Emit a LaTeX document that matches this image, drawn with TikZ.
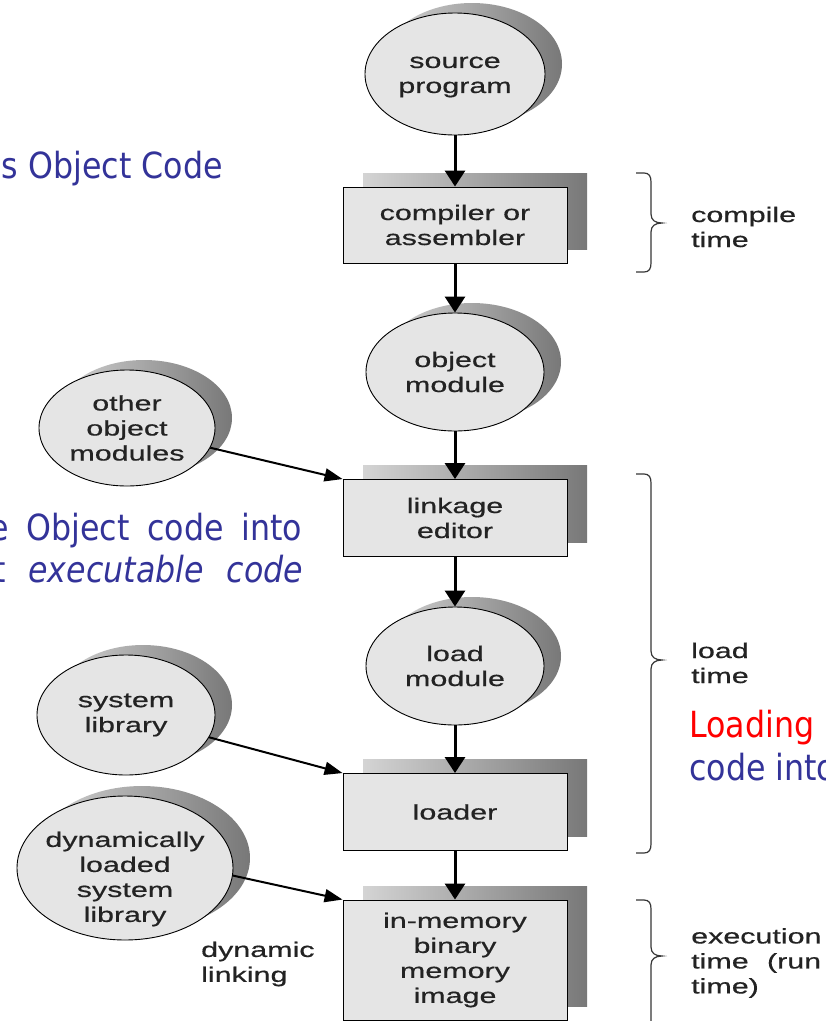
\documentclass[tikz,border=0pt]{standalone}
\usepackage{fontspec}
\setmainfont{Liberation Sans}
\newfontfamily\figfont[FakeStretch=1.45,FakeBold=0.5]{Liberation Sans}
\newfontfamily\slidefont[FakeStretch=0.88]{DejaVu Sans}
\usetikzlibrary{arrows.meta,shapes.geometric}

\definecolor{nodefill}{RGB}{229,229,229}
\definecolor{shadelight}{RGB}{212,212,212}
\definecolor{shadedark}{RGB}{120,120,120}
\definecolor{figink}{RGB}{35,35,35}
\definecolor{slideblue}{RGB}{51,51,153}
\definecolor{slidered}{RGB}{255,0,0}
\definecolor{bracegray}{RGB}{55,55,55}

\newcommand\figtext{\figfont\fontsize{21}{25}\selectfont}

\tikzset{
  modell/.style={ellipse, draw=black, line width=0.9pt, fill=nodefill, inner sep=0pt},
  modbox/.style={rectangle, draw=black, line width=0.9pt, fill=nodefill, inner sep=0pt,
    font=\figtext, text=figink, align=center},
  modtext/.style={font=\figtext, text=figink, align=center, inner sep=0pt},
  shadowfill/.style={left color=shadelight, right color=shadedark},
  flow/.style={line width=3pt, -{Triangle[width=20pt,length=16pt]}},
  feed/.style={line width=2pt, -{Triangle[width=13pt,length=18pt]}},
  bracepath/.style={line width=1.2pt, draw=bracegray},
  timelabel/.style={font=\figtext, text=figink, align=left, anchor=west, inner sep=0pt},
  slidetext/.style={font=\slidefont\fontsize{36}{43}\selectfont, inner sep=0pt},
}

% ellipse module with its shaded drop shadow: name, x, y, x radius, y radius, text, text offset
\newcommand\roundmod[7]{%
  \shade[shadowfill] (#2+17,#3-10) ellipse[x radius=#4, y radius=#5];
  \node[modell, minimum width={2*#4pt}, minimum height={2*#5pt}] (#1) at (#2,#3) {};
  \node[modtext] (#1-text) at (#2,#3+#7) {#6};
}

% rectangular stage with its shaded drop shadow: name, x, y, width, height, text
\newcommand\rectmod[6]{%
  \shade[shadowfill] (#2-#4/2+20,#3-#5/2-14) rectangle (#2+#4/2+20,#3+#5/2-14);
  \node[modbox, minimum width={#4pt}, minimum height={#5pt}] (#1) at (#2,#3) {#6};
}

% right curly brace: top y, tip y, bottom y
\newcommand\timebrace[3]{%
  \draw[bracepath] (636,#1) -- (644,#1)
    .. controls (649,#1) and (651,#1+3) .. (651,#1+9) -- (651,#2-9)
    .. controls (651,#2-3) and (655,#2) .. (662,#2)
    .. controls (655,#2) and (651,#2+3) .. (651,#2+9) -- (651,#3-9)
    .. controls (651,#3-3) and (649,#3) .. (644,#3) -- (636,#3);
}

\begin{document}
\begin{tikzpicture}[x=1pt,y=-1pt]
  \fill[white] (0,0) rectangle (826,1021);
  \useasboundingbox (0,0) rectangle (826,1021);

  % main column
  \roundmod{src}{455}{74}{90}{61}{source\\program}{3}
  \rectmod{compiler}{455}{225}{224}{76}{compiler or\\assembler}
  \roundmod{objmod}{455}{372}{89}{59}{object\\module}{0}
  \rectmod{linkage}{455}{518}{224}{77}{linkage\\editor}
  \roundmod{loadmod}{455}{666}{89}{59}{load\\module}{0}
  \rectmod{loader}{455}{812}{224}{77}{loader}
  \rectmod{inmem}{455}{960}{224}{120}{in-memory\\binary\\memory\\image}

  % side inputs
  \roundmod{others}{127}{428}{88}{58}{other\\object\\modules}{0}
  \roundmod{syslib}{126}{715}{89}{60}{system\\library}{0}
  \roundmod{dynlib}{125}{868}{108}{72}{dynamically\\loaded\\system\\library}{11}

  % flow arrows
  \draw[flow] (src) -- (compiler);
  \draw[flow] (compiler) -- (objmod);
  \draw[flow] (objmod) -- (linkage);
  \draw[flow] (linkage) -- (loadmod);
  \draw[flow] (loadmod) -- (loader);
  \draw[flow] (loader) -- (inmem);
  \draw[feed] (others) -- (linkage.north west);
  \draw[feed] (syslib) -- (loader.north west);
  \draw[feed] (dynlib.-4) -- (inmem.north west);

  \node[timelabel] (dynlabel) at (201,964) {dynamic\\linking};

  % time braces
  \timebrace{173}{223}{272}
  \timebrace{474}{660}{853}
  \timebrace{900}{956}{1045}
  \node[timelabel] (compiletime) at (691,227) {compile\\time};
  \node[timelabel] (loadtime) at (691,663) {load\\time};
  \node[timelabel] (exectime) at (691,963)
    {execution\\\makebox[130pt][s]{time (run}\\time)};

  % slide text
  \node[slidetext, text=slideblue, anchor=base east] (objcode) at (223,178) {s Object Code};
  \node[slidetext, text=slideblue, anchor=base west] (linkline1) at (-11,540)
    {\makebox[313pt][s]{e Object code into}};
  \node[slidetext, text=slideblue, anchor=base west] (linkline2) at (-7,582)
    {\makebox[310pt][s]{t \itshape executable code}};
  \node[slidetext, text=slidered, anchor=base west] (loading) at (689,737) {Loading};
  \node[slidetext, text=slideblue, anchor=base west] (codeinto) at (689,780) {code into};
\end{tikzpicture}
\end{document}
